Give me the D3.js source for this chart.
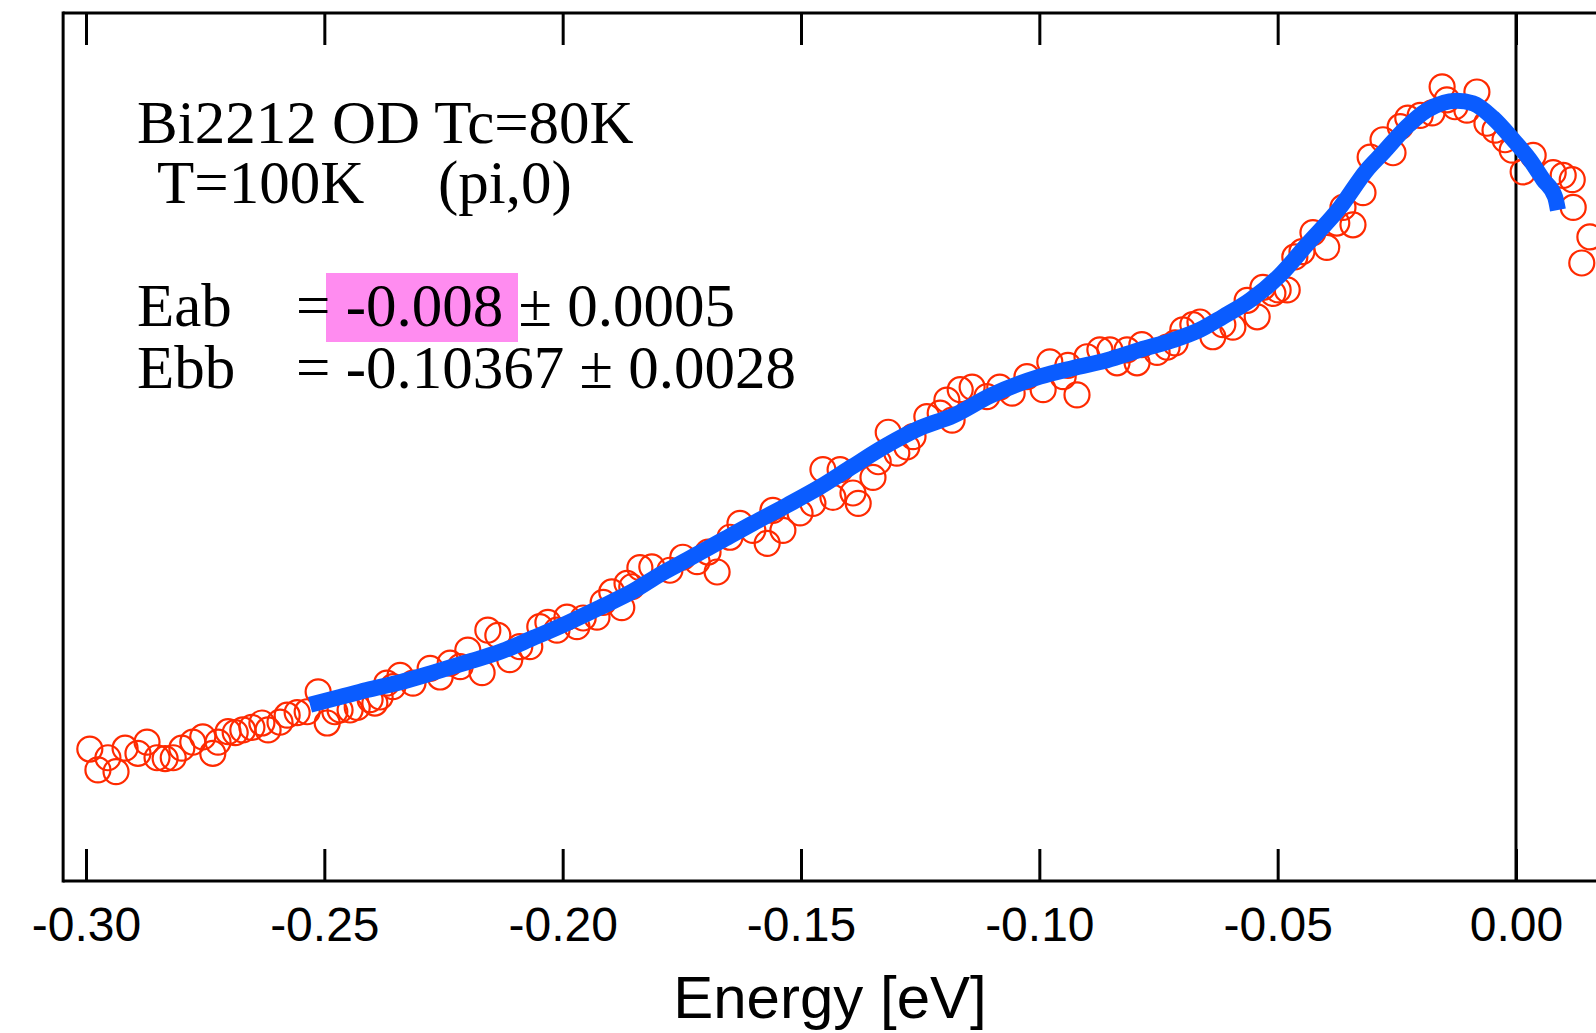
<!DOCTYPE html>
<html><head><meta charset="utf-8">
<script src="https://cdn.jsdelivr.net/npm/d3@7"></script>
<style>html,body{margin:0;padding:0;background:#fff;overflow:hidden}</style>
</head><body>
<svg id="chart" width="1596" height="1033"></svg>
<script>
// ---- data (energy in eV, intensity in arbitrary units) ----
const xTicks = [-0.30, -0.25, -0.20, -0.15, -0.10, -0.05, 0.00];
const xTickLabels = ["-0.30", "-0.25", "-0.20", "-0.15", "-0.10", "-0.05", "0.00"];
const xDomain = [-0.3048, 0.0175];
const yDomain = [0, 100];
const xLabel = "Energy [eV]";

const dataEnergy = [
-0.2992,-0.2975,-0.2954,-0.2937,-0.2918,-0.2891,-0.2872,-0.2851,-0.2834,-0.2817,
-0.2799,-0.2776,-0.2755,-0.2734,-0.2723,-0.2702,-0.2687,-0.2671,-0.2652,-0.2631,
-0.2618,-0.2593,-0.2578,-0.2557,-0.2536,-0.2513,-0.2494,-0.2478,-0.2467,-0.2446,
-0.2431,-0.2404,-0.2394,-0.2383,-0.2369,-0.2356,-0.2341,-0.2314,-0.2278,-0.2257,
-0.2236,-0.2215,-0.2199,-0.2169,-0.2157,-0.2136,-0.2111,-0.2090,-0.2069,-0.2048,
-0.2031,-0.2012,-0.1991,-0.1970,-0.1957,-0.1928,-0.1915,-0.1897,-0.1876,-0.1865,
-0.1855,-0.1838,-0.1813,-0.1775,-0.1748,-0.1718,-0.1695,-0.1676,-0.1649,-0.1628,
-0.1601,-0.1571,-0.1559,-0.1538,-0.1502,-0.1475,-0.1454,-0.1433,-0.1418,-0.1391,
-0.1380,-0.1349,-0.1338,-0.1317,-0.1299,-0.1278,-0.1265,-0.1236,-0.1208,-0.1194,
-0.1183,-0.1166,-0.1141,-0.1110,-0.1083,-0.1057,-0.1026,-0.0992,-0.0978,-0.0950,
-0.0940,-0.0921,-0.0900,-0.0873,-0.0852,-0.0837,-0.0816,-0.0795,-0.0785,-0.0753,
-0.0732,-0.0715,-0.0699,-0.0678,-0.0663,-0.0636,-0.0615,-0.0594,-0.0564,-0.0543,
-0.0531,-0.0510,-0.0499,-0.0480,-0.0464,-0.0449,-0.0426,-0.0397,-0.0376,-0.0363,
-0.0342,-0.0321,-0.0306,-0.0279,-0.0258,-0.0243,-0.0227,-0.0201,-0.0176,-0.0155,
-0.0145,-0.0128,-0.0103,-0.0082,-0.0061,-0.0044,-0.0023,-0.0008,0.0015,0.0036,
0.0078,0.0099,0.0118,0.0120,0.0138,0.0155
];
const dataIntensity = [
15.2,12.8,14.2,12.6,15.3,14.7,16.0,14.2,14.1,14.2,
15.3,16.0,16.6,14.7,16.0,17.2,17.1,17.4,17.7,18.2,
17.4,18.3,19.1,19.4,19.5,21.8,18.2,19.5,19.7,19.7,
20.0,20.9,20.5,21.2,22.8,22.4,23.7,22.8,24.5,23.5,
25.1,24.7,26.6,24.0,28.9,28.3,25.5,27.0,27.0,29.3,
29.8,28.9,30.4,29.3,30.3,30.4,32.1,33.3,31.5,34.3,
33.9,36.1,36.2,35.8,37.3,36.8,37.9,35.6,39.6,41.2,
40.4,38.9,42.7,40.4,42.4,43.5,47.4,44.2,47.4,44.7,
43.5,46.5,48.3,51.7,49.3,50.0,51.2,53.5,53.9,55.4,
53.1,56.6,56.9,55.8,56.9,56.2,58.1,56.6,59.8,58.1,
59.4,56.0,60.4,61.2,61.2,59.7,61.2,59.7,61.8,60.9,
61.5,62.0,63.5,64.1,64.4,62.7,64.1,63.8,66.9,65.0,
68.4,67.7,68.1,68.1,71.9,72.5,74.7,73.0,75.8,77.6,
75.6,79.3,83.4,85.4,83.9,86.9,87.9,88.2,88.5,91.5,
90.0,89.2,88.8,90.9,87.3,86.5,85.4,84.2,81.7,83.6,
81.6,81.3,80.8,77.6,71.2,74.2
];

const fitEnergy = [
-0.2530,-0.2467,-0.2411,-0.2341,-0.2272,-0.2201,-0.2131,-0.2062,-0.1991,-0.1922,
-0.1852,-0.1796,-0.1739,-0.1670,-0.1601,-0.1529,-0.1460,-0.1391,-0.1320,-0.1250,
-0.1181,-0.1103,-0.0999,-0.0929,-0.0858,-0.0789,-0.0720,-0.0663,-0.0615,-0.0558,
-0.0495,-0.0439,-0.0369,-0.0313,-0.0279,-0.0229,-0.0187,-0.0124,-0.0090,-0.0048,
-0.0006,0.0029,0.0057,0.0082,0.0088
];
const fitIntensity = [
20.3,21.2,22.0,22.9,24.0,25.2,26.4,28.0,29.7,31.5,
33.4,35.3,37.0,39.1,41.2,43.3,45.4,47.8,50.2,52.2,
53.6,55.9,58.1,59.1,60.0,61.2,62.3,63.5,65.0,66.9,
69.8,73.3,77.6,81.9,83.9,86.9,88.8,89.9,89.6,87.9,
85.4,83.1,80.8,78.8,77.3
];

// ---- chart ----
const svg = d3.select("#chart");
const x = d3.scaleLinear().domain([-0.30, 0.00]).range([86, 1516]);
const y = d3.scaleLinear().domain(yDomain).range([881, 13]);
const xLeft = x(xDomain[0]), xRight = x(xDomain[1]);
const yTop = y(yDomain[1]), yBottom = y(yDomain[0]);

const AX = "#000";

// bottom axis with inward ticks
const gB = svg.append("g").attr("transform", `translate(0,${yBottom})`)
  .call(d3.axisBottom(x).tickValues(xTicks).tickSizeInner(-32).tickSizeOuter(0)
        .tickFormat((d, i) => xTickLabels[i]));
gB.select(".domain").remove();
gB.selectAll(".tick line").attr("stroke", AX).attr("stroke-width", 3);
gB.selectAll(".tick text").attr("y", 60).attr("dy", 0)
  .attr("font-family", "'Liberation Sans', Arial, sans-serif").attr("font-size", 48).attr("fill", "#000");

// top axis with inward ticks, no labels
const gT = svg.append("g").attr("transform", `translate(0,${yTop})`)
  .call(d3.axisTop(x).tickValues(xTicks).tickSizeInner(-32).tickSizeOuter(0).tickFormat(""));
gT.select(".domain").remove();
gT.selectAll(".tick line").attr("stroke", AX).attr("stroke-width", 3);

// frame lines
svg.append("line").attr("x1", xLeft).attr("x2", xRight).attr("y1", yBottom).attr("y2", yBottom)
  .attr("stroke", AX).attr("stroke-width", 3);
svg.append("line").attr("x1", xLeft).attr("x2", xRight).attr("y1", yTop).attr("y2", yTop)
  .attr("stroke", AX).attr("stroke-width", 3);
svg.append("line").attr("x1", xLeft).attr("x2", xLeft).attr("y1", yTop - 1.5).attr("y2", yBottom + 1.5)
  .attr("stroke", AX).attr("stroke-width", 3);
// zero line
svg.append("line").attr("x1", x(0)).attr("x2", x(0)).attr("y1", yTop).attr("y2", yBottom)
  .attr("stroke", AX).attr("stroke-width", 3);

// data circles
const pts = dataEnergy.map((e, i) => ({e, v: dataIntensity[i]}));
svg.append("g").selectAll("circle").data(pts).join("circle")
  .attr("cx", d => x(d.e)).attr("cy", d => y(d.v)).attr("r", 12.5)
  .attr("fill", "none").attr("stroke", "#ff2a00").attr("stroke-width", 2.2);

// fit line
const fit = fitEnergy.map((e, i) => ({e, v: fitIntensity[i]}));
svg.append("path").datum(fit)
  .attr("d", d3.line().x(d => x(d.e)).y(d => y(d.v)).curve(d3.curveMonotoneX))
  .attr("fill", "none").attr("stroke", "#0a5cff").attr("stroke-width", 16)
  .attr("stroke-linejoin", "round").attr("stroke-linecap", "butt");

// x label
svg.append("text").attr("x", 830).attr("y", 1018).attr("text-anchor", "middle")
  .attr("font-family", "'Liberation Sans', Arial, sans-serif").attr("font-size", 60).attr("fill", "#000")
  .text(xLabel);

// annotations
const serif = "'Liberation Serif', 'Times New Roman', serif";
const FS = 61;
function t(xp, yp, s) {
  svg.append("text").attr("x", xp).attr("y", yp).attr("font-family", serif)
    .attr("font-size", FS).attr("fill", "#000").attr("xml:space", "preserve").text(s);
}
svg.append("rect").attr("x", 326).attr("y", 273).attr("width", 192).attr("height", 69)
  .attr("fill", "#ff8cf0");
t(137, 143, "Bi2212 OD Tc=80K");
t(157, 203, "T=100K");
t(438, 203, "(pi,0)");
t(137, 326, "Eab");
t(296, 326, "= -0.008 \u00b1 0.0005");
t(137, 388, "Ebb");
t(296, 388, "= -0.10367 \u00b1 0.0028");
</script>
</body></html>
